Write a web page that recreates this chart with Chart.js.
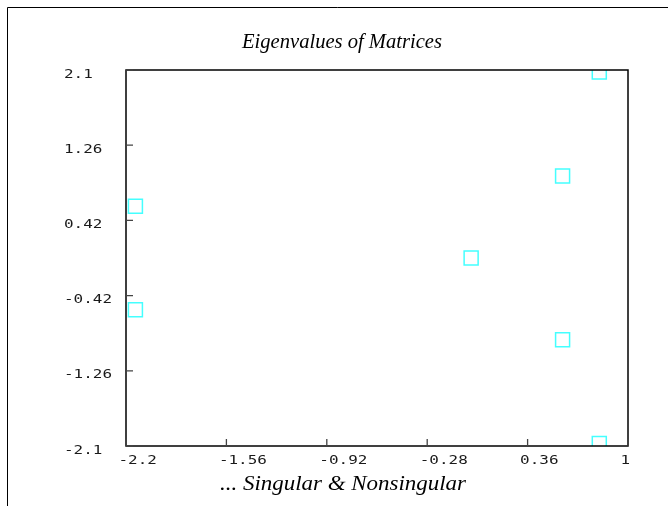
<!DOCTYPE html>
<html>
<head>
<meta charset="utf-8">
<script src="https://cdn.jsdelivr.net/npm/chart.js@4.4.1/dist/chart.umd.min.js"></script>
<style>
  html, body { margin: 0; padding: 0; background: #fff; overflow: hidden; }
  canvas { display: block; }
</style>
</head>
<body>
<canvas id="c" width="668" height="506"></canvas>
<script>
// Titles
const chartTitle = 'Eigenvalues of Matrices';
const axisTitle = '... Singular & Nonsingular';

// Eigenvalues: real part on x, imaginary part on y
const realParts = [0.817, 0.583, -2.14, 0.0, -2.14, 0.583, 0.817];
const imagParts = [2.078, 0.915, 0.578, 0.0, -0.578, -0.913, -2.073];

// Axis ticks
const xTickValues = [-2.2, -1.56, -0.92, -0.28, 0.36, 1];
const xTickLabels = ['-2.2', '-1.56', '-0.92', '-0.28', '0.36', '1'];
const yTickValues = [2.1, 1.26, 0.42, -0.42, -1.26, -2.1];
const yTickLabels = ['2.1', '1.26', '0.42', '-0.42', '-1.26', '-2.1'];

const points = realParts.map((re, i) => ({ x: re, y: imagParts[i] }));

// centred text stretched to a given width
function drawFitted(ctx, text, font, cx, baseline, width) {
  ctx.font = font;
  const w = ctx.measureText(text).width;
  const s = width / w;
  ctx.save();
  ctx.translate(cx, baseline);
  ctx.scale(s, 1);
  ctx.textAlign = 'center';
  ctx.textBaseline = 'alphabetic';
  ctx.fillText(text, 0, 0);
  ctx.restore();
}

// left-aligned, horizontally widened tick label
function drawTickText(ctx, text, x, baseline) {
  ctx.save();
  ctx.translate(x, baseline);
  ctx.scale(1.33, 1);
  ctx.textAlign = 'left';
  ctx.textBaseline = 'alphabetic';
  ctx.fillText(text, 0, 0);
  ctx.restore();
}

const plotDecor = {
  id: 'plotDecor',
  beforeDraw(chart) {
    const ctx = chart.ctx;
    ctx.save();
    ctx.fillStyle = '#fff';
    ctx.fillRect(0, 0, chart.width, chart.height);
    // outer frame (left and top edges)
    ctx.strokeStyle = '#000';
    ctx.lineWidth = 1;
    ctx.beginPath();
    ctx.moveTo(7.5, chart.height);
    ctx.lineTo(7.5, 7.5);
    ctx.lineTo(chart.width, 7.5);
    ctx.stroke();
    ctx.restore();
  },
  afterDatasetsDraw(chart) {
    const { ctx, chartArea: a, scales: { x, y } } = chart;
    ctx.save();
    // plot box
    ctx.strokeStyle = '#000';
    ctx.lineWidth = 1.5;
    ctx.strokeRect(a.left, a.top, a.right - a.left, a.bottom - a.top);

    // inward tick marks
    ctx.strokeStyle = '#444';
    ctx.lineWidth = 1.3;
    ctx.beginPath();
    xTickValues.forEach(v => {
      const px = x.getPixelForValue(v);
      ctx.moveTo(px, a.bottom);
      ctx.lineTo(px, a.bottom - 7);
    });
    yTickValues.forEach(v => {
      const py = y.getPixelForValue(v);
      ctx.moveTo(a.left, py);
      ctx.lineTo(a.left + 7, py);
    });
    ctx.stroke();

    // tick labels
    ctx.fillStyle = '#1a1a1a';
    ctx.font = '12px "DejaVu Sans Mono"';
    xTickValues.forEach((v, i) => {
      const px = x.getPixelForValue(v);
      drawTickText(ctx, xTickLabels[i], px - 7.5, a.bottom + 17.5);
    });
    yTickValues.forEach((v, i) => {
      const py = y.getPixelForValue(v);
      drawTickText(ctx, yTickLabels[i], 64, py + 7.5);
    });

    // titles
    ctx.fillStyle = '#000';
    drawFitted(ctx, chartTitle, 'italic 20px "Liberation Serif"', 342, 48, 200);
    drawFitted(ctx, axisTitle, 'italic 20px "Liberation Serif"', 343, 490, 246);
    ctx.restore();
  }
};

new Chart(document.getElementById('c'), {
  type: 'scatter',
  data: {
    datasets: [{
      data: points,
      pointStyle: 'rect',
      pointRadius: 9.9,
      pointHoverRadius: 9.9,
      pointBorderWidth: 1.5,
      pointBorderColor: '#44ffff',
      pointBackgroundColor: 'rgba(0,0,0,0)',
      showLine: false,
      clip: 0
    }]
  },
  options: {
    responsive: false,
    devicePixelRatio: 1,
    animation: false,
    events: [],
    layout: { padding: { left: 126, top: 70, right: 40, bottom: 60 } },
    plugins: { legend: { display: false }, tooltip: { enabled: false }, title: { display: false } },
    scales: {
      x: { type: 'linear', min: -2.2, max: 1, display: false },
      y: { type: 'linear', min: -2.1, max: 2.1, display: false }
    }
  },
  plugins: [plotDecor]
});
</script>
</body>
</html>
